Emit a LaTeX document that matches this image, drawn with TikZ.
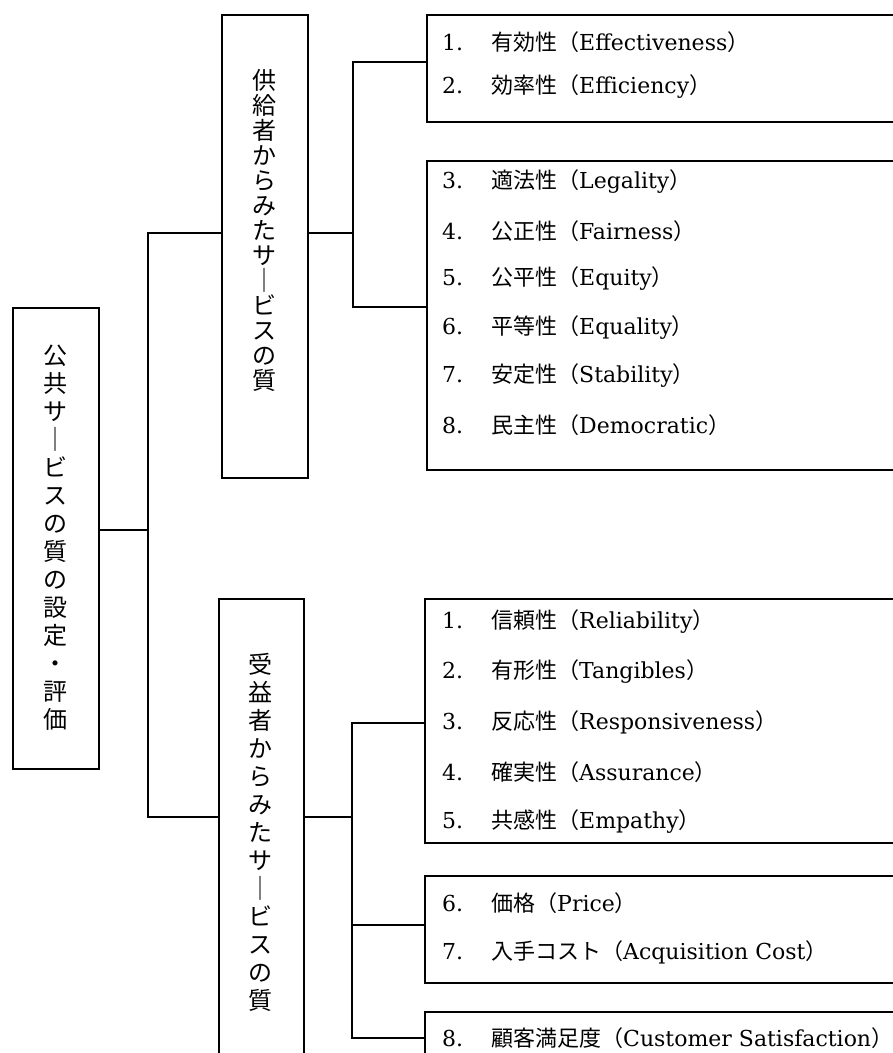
\documentclass[tikz,border=0pt]{standalone}
\usepackage{fontspec}
\setmainfont{DejaVu Serif}
\newfontfamily\jp{Noto Sans CJK JP}
\tikzset{
  box/.style={draw, line width=1.6pt, rectangle, inner sep=0pt, anchor=north west},
  conn/.style={line width=1.6pt},
  vt/.style={inner sep=0pt, align=center},
  itm/.style={inner sep=0pt, anchor=west, font=\fontsize{22}{26}\selectfont},
}
\newcommand\itx[3]{\makebox[49pt][l]{#1}{\jp #2（}#3{\jp ）}}
\begin{document}
\begin{tikzpicture}[x=1pt,y=-1pt]
\useasboundingbox (0,0) rectangle (893,1053);
\clip (0,0) rectangle (893,1053);
\fill[white] (0,0) rectangle (893,1053);
% boxes
\node[box, minimum width=86pt, minimum height=461pt] (main) at (12,307) {};
\node[box, minimum width=86pt, minimum height=463pt] (sup) at (221,14) {};
\node[box, minimum width=85pt, minimum height=520pt] (rec) at (218,598) {};
\node[box, minimum width=520pt, minimum height=107pt] (A) at (426,14) {};
\node[box, minimum width=520pt, minimum height=309pt] (B) at (426,160) {};
\node[box, minimum width=520pt, minimum height=244pt] (C) at (424,598) {};
\node[box, minimum width=520pt, minimum height=107pt] (D) at (424,875) {};
\node[box, minimum width=520pt, minimum height=120pt] (E) at (424,1011) {};
% vertical texts
\node[vt, font=\jp\fontsize{24}{28}\selectfont] (mt) at (55,538)
  {公\\共\\サ\\｜\\ビ\\ス\\の\\質\\の\\設\\定\\・\\評\\価};
\node[vt, font=\jp\fontsize{24}{25}\selectfont] (st) at (264,230)
  {供\\給\\者\\か\\ら\\み\\た\\サ\\｜\\ビ\\ス\\の\\質};
\node[vt, font=\jp\fontsize{24}{28}\selectfont] (rt) at (260.5,832)
  {受\\益\\者\\か\\ら\\み\\た\\サ\\｜\\ビ\\ス\\の\\質};
% connectors
\coordinate (j0) at (148,530);
\coordinate (jS) at (148,233);
\coordinate (jR) at (148,817);
\draw[conn] (main.east |- j0) -- (j0);
\draw[conn] (sup.west |- jS) -- (jS) -- (jR) -- (rec.west |- jR);
\coordinate (k0) at (353,233);
\coordinate (kA) at (353,62);
\coordinate (kB) at (353,307);
\draw[conn] (sup.east |- k0) -- (k0);
\draw[conn] (A.west |- kA) -- (kA) -- (kB) -- (B.west |- kB);
\coordinate (m0) at (352,817);
\coordinate (mC) at (352,723);
\coordinate (mD) at (352,925);
\coordinate (mE) at (352,1038);
\draw[conn] (rec.east |- m0) -- (m0);
\draw[conn] (C.west |- mC) -- (mC) -- (mE) -- (E.west |- mE);
\draw[conn] (mD) -- (D.west |- mD);
% items
\node[itm] (a1) at (442,42) {\itx{1.}{有効性}{Effectiveness}};
\node[itm] (a2) at (442,87) {\itx{2.}{効率性}{Efficiency}};
\node[itm] (b3) at (442,182) {\itx{3.}{適法性}{Legality}};
\node[itm] (b4) at (442,231) {\itx{4.}{公正性}{Fairness}};
\node[itm] (b5) at (442,279) {\itx{5.}{公平性}{Equity}};
\node[itm] (b6) at (442,328) {\itx{6.}{平等性}{Equality}};
\node[itm] (b7) at (442,376) {\itx{7.}{安定性}{Stability}};
\node[itm] (b8) at (442,425) {\itx{8.}{民主性}{Democratic}};
\node[itm] (c1) at (442,622) {\itx{1.}{信頼性}{Reliability}};
\node[itm] (c2) at (442,672) {\itx{2.}{有形性}{Tangibles}};
\node[itm] (c3) at (442,722) {\itx{3.}{反応性}{Responsiveness}};
\node[itm] (c4) at (442,772) {\itx{4.}{確実性}{Assurance}};
\node[itm] (c5) at (442,822) {\itx{5.}{共感性}{Empathy}};
\node[itm] (d6) at (442,903) {\itx{6.}{価格}{Price}};
\node[itm] (d7) at (442,952) {\itx{7.}{入手コスト}{Acquisition Cost}};
\node[itm] (e8) at (442,1038) {\itx{8.}{顧客満足度}{Customer Satisfaction}};
\end{tikzpicture}
\end{document}
